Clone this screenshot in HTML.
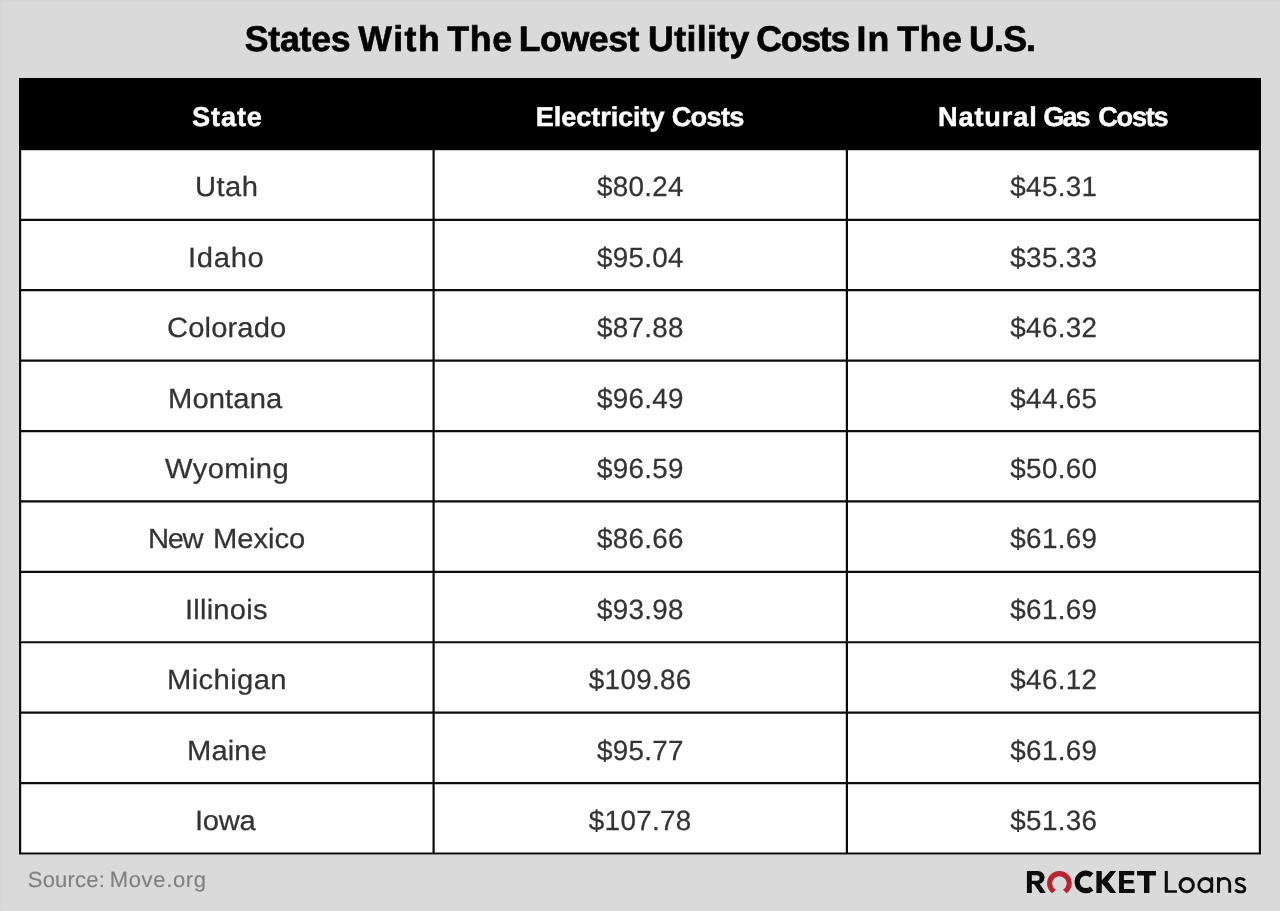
<!DOCTYPE html>
<html lang="en">
<head>
<meta charset="utf-8">
<title>States With The Lowest Utility Costs In The U.S.</title>
<style>
  html, body { margin: 0; padding: 0; }
  body {
    width: 1280px; height: 911px; overflow: hidden; position: relative;
    background: #dadada;
    font-family: "Liberation Sans", sans-serif;
  }
  .txt { position: absolute; left: 0; top: 0; width: 1280px; height: 911px; will-change: transform; }
  .x { position: absolute; white-space: nowrap; line-height: 1; text-rendering: geometricPrecision; }
  .title { font-weight: bold; font-size: 35.7px; color: #000; -webkit-text-stroke:0.65px #000; }
  .h { font-weight: bold; font-size: 27.2px; color: #fff; -webkit-text-stroke:0.45px #fff; }
  .b, .n { font-size: 27.8px; color: #333; -webkit-text-stroke:0.25px #333; }
  .b { transform:scaleX(1.05);transform-origin:0 0; }
  .src { font-size: 22px; color: #808080; -webkit-text-stroke:0.15px #808080;  }
</style>
</head>
<body>
<svg class="grid" viewBox="0 0 1280 911" width="1280" height="911" style="position:absolute;left:0;top:0" shape-rendering="geometricPrecision">
  <path d="M0 0H1280V1.1H1.6V910H0Z" fill="#d6d6d6"/>
  <rect x="19.00" y="149.20" width="1242.00" height="705.40" fill="#fff"/>
  <rect x="19.00" y="78.00" width="1242.00" height="72.20" fill="#000"/>
  <path d="M19.00 219.80H1261.00M19.00 290.21H1261.00M19.00 360.62H1261.00M19.00 431.03H1261.00M19.00 501.44H1261.00M19.00 571.85H1261.00M19.00 642.26H1261.00M19.00 712.67H1261.00M19.00 783.08H1261.00M19.00 853.50H1261.00M20.10 149.20V854.60M433.60 149.20V854.60M846.90 149.20V854.60M1259.90 149.20V854.60" fill="none" stroke="#0b0b0b" stroke-width="2.2"/>
</svg>
<div class="txt">
  <div class="x title" style="left:244.73px;top:22px;letter-spacing:-0.25px">States</div>
  <div class="x title" style="left:358.31px;top:22px;letter-spacing:1.51px">With</div>
  <div class="x title" style="left:447.25px;top:22px;letter-spacing:0.75px">The</div>
  <div class="x title" style="left:518.68px;top:22px;letter-spacing:-0.42px">Lowest</div>
  <div class="x title" style="left:648.09px;top:22px;letter-spacing:0.37px">Utility</div>
  <div class="x title" style="left:756.32px;top:22px;letter-spacing:-1.29px">Costs</div>
  <div class="x title" style="left:856.58px;top:22px;letter-spacing:1.05px">In</div>
  <div class="x title" style="left:897.15px;top:22px;letter-spacing:0.6px">The</div>
  <div class="x title" style="left:969.09px;top:22px;letter-spacing:-0.82px">U.S.</div>
  <div class="x h" style="left:192.06px;top:103px;letter-spacing:0.86px">State</div>
  <div class="x h" style="left:535.77px;top:103px;letter-spacing:-0.11px">Electricity</div>
  <div class="x h" style="left:671.69px;top:103px;letter-spacing:-0.72px">Costs</div>
  <div class="x h" style="left:937.92px;top:103px;letter-spacing:0.87px">Natural</div>
  <div class="x h" style="left:1043.29px;top:103px;letter-spacing:-2.02px">Gas</div>
  <div class="x h" style="left:1098.19px;top:103px;letter-spacing:-1.27px">Costs</div>
  <div class="x b" style="left:195px;top:173px;letter-spacing:0.39px">Utah</div>
  <div class="x n" style="left:596.9px;top:173px;letter-spacing:0.33px">$80.24</div>
  <div class="x n" style="left:1010.3px;top:173px;letter-spacing:0.33px">$45.31</div>
  <div class="x b" style="left:188.48px;top:244px;letter-spacing:0.66px">Idaho</div>
  <div class="x n" style="left:596.9px;top:244px;letter-spacing:0.33px">$95.04</div>
  <div class="x n" style="left:1010.3px;top:244px;letter-spacing:0.33px">$35.33</div>
  <div class="x b" style="left:166.71px;top:314px;letter-spacing:0.11px">Colorado</div>
  <div class="x n" style="left:596.9px;top:314px;letter-spacing:0.33px">$87.88</div>
  <div class="x n" style="left:1010.3px;top:314px;letter-spacing:0.33px">$46.32</div>
  <div class="x b" style="left:168.4px;top:385px;letter-spacing:0.1px">Montana</div>
  <div class="x n" style="left:596.9px;top:385px;letter-spacing:0.33px">$96.49</div>
  <div class="x n" style="left:1010.3px;top:385px;letter-spacing:0.33px">$44.65</div>
  <div class="x b" style="left:165.18px;top:455px;letter-spacing:0.36px">Wyoming</div>
  <div class="x n" style="left:596.9px;top:455px;letter-spacing:0.33px">$96.59</div>
  <div class="x n" style="left:1010.3px;top:455px;letter-spacing:0.33px">$50.60</div>
  <div class="x b" style="left:147.7px;top:525px;letter-spacing:-1.3px">New</div>
  <div class="x b" style="left:212.9px;top:525px;letter-spacing:-0.02px">Mexico</div>
  <div class="x n" style="left:596.9px;top:525px;letter-spacing:0.33px">$86.66</div>
  <div class="x n" style="left:1010.3px;top:525px;letter-spacing:0.33px">$61.69</div>
  <div class="x b" style="left:184.78px;top:596px;letter-spacing:0.19px">Illinois</div>
  <div class="x n" style="left:596.9px;top:596px;letter-spacing:0.33px">$93.98</div>
  <div class="x n" style="left:1010.3px;top:596px;letter-spacing:0.33px">$61.69</div>
  <div class="x b" style="left:166.9px;top:666px;letter-spacing:0.37px">Michigan</div>
  <div class="x n" style="left:588.8px;top:666px;letter-spacing:0.33px">$109.86</div>
  <div class="x n" style="left:1010.3px;top:666px;letter-spacing:0.33px">$46.12</div>
  <div class="x b" style="left:186.6px;top:737px;letter-spacing:0.09px">Maine</div>
  <div class="x n" style="left:596.9px;top:737px;letter-spacing:0.33px">$95.77</div>
  <div class="x n" style="left:1010.3px;top:737px;letter-spacing:0.33px">$61.69</div>
  <div class="x b" style="left:195.08px;top:807px;letter-spacing:-0.27px">Iowa</div>
  <div class="x n" style="left:588.8px;top:807px;letter-spacing:0.33px">$107.78</div>
  <div class="x n" style="left:1010.3px;top:807px;letter-spacing:0.33px">$51.36</div>
  <div class="x src" style="left:27.8px;top:869px;letter-spacing:0.19px">Source:</div>
  <div class="x src" style="left:109.71px;top:869px;letter-spacing:0.66px">Move.org</div>
</div>
<svg class="logo" viewBox="1020 862 240 40" width="240" height="40" style="position:absolute;left:1020px;top:862px" shape-rendering="geometricPrecision">
  <g fill="#0d0d0d">
    <path fill-rule="evenodd" d="M1026.92 871.09H1038.1A6.4 6.4 0 0 1 1039.6 883.72L1045.9 893.05H1040.26L1033.9 883.9H1031.83V893.05H1026.92ZM1031.83 875.31V880.75H1036.84A2.72 2.72 0 0 0 1036.84 875.31Z"/>
    <path d="M1096.4 871.1H1101.8V880.2L1110.3 871.1H1116.1L1108 881.45L1116.2 893.05H1110.3L1101.8 883.2V893.05H1096.4Z"/>
    <path d="M1119.06 871.06H1134.25V875.19H1123.94V880.06H1133.5V883.6H1123.94V888.9H1134.8V893H1119.06Z"/>
    <path d="M1137.06 871.06H1156V875.4H1149.44V893H1144V875.4H1137.06Z"/>
    <path d="M1164.75 870.9H1167.83V890.2H1176.94V892.8H1164.75Z"/>
    <rect x="1210.4" y="877.3" width="2.72" height="15.5"/>
    <rect x="1217.06" y="877.3" width="2.88" height="15.5"/>
  </g>
  <path fill="#b9232f" d="M1052.2 893.1A12.35 12.35 0 1 1 1066.6 893.1L1062.9 889.4A7.2 7.2 0 1 0 1055.9 889.4Z" transform="translate(0 0.25)"/>
  <g fill="none" stroke="#0d0d0d">
    <path stroke-width="5.2" d="M1091.77 875.26A8.8 8.8 0 1 0 1091.77 888.54"/>
    <circle cx="1186.7" cy="885.13" r="6.65" stroke-width="3"/>
    <circle cx="1205.3" cy="885.1" r="6.6" stroke-width="2.85"/>
    <path stroke-width="2.9" d="M1218.5 884A5.6 5.6 0 0 1 1229.7 884V892.8"/>
    <path stroke-width="2.8" d="M1244.8 880.5C1243.8 879.1 1242.2 878.35 1240.3 878.35C1237.9 878.35 1236.3 879.6 1236.3 881.4C1236.3 883.4 1238 884.2 1240.5 885C1243.2 885.9 1244.9 886.8 1244.9 888.9C1244.9 890.8 1243.1 891.95 1240.6 891.95C1238.4 891.95 1236.5 891.1 1235.4 889.6"/>
  </g>
</svg>
</body>
</html>
